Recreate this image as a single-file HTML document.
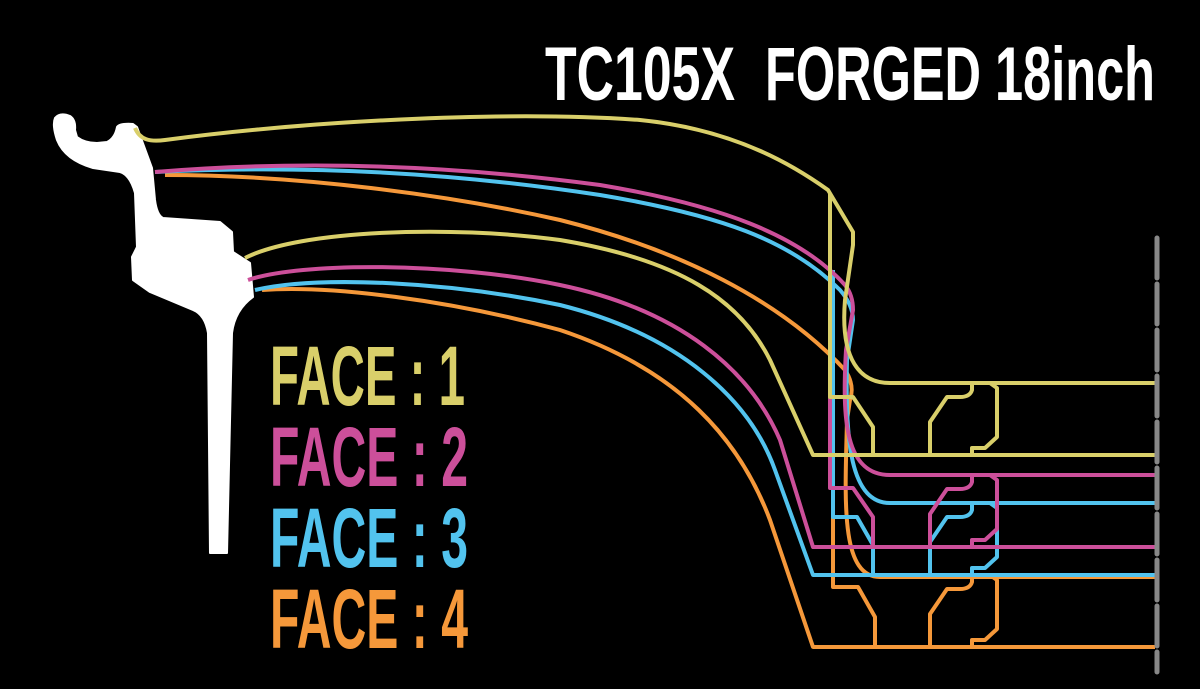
<!DOCTYPE html>
<html><head><meta charset="utf-8"><style>html,body{margin:0;padding:0;background:#000}svg{display:block}</style></head>
<body>
<svg width="1200" height="689" viewBox="0 0 1200 689" xmlns="http://www.w3.org/2000/svg">
<rect width="1200" height="689" fill="#000"/>
<g font-family="Liberation Sans, sans-serif" font-weight="bold" font-size="76" fill="#fff">
<text x="545" y="100" textLength="190" lengthAdjust="spacingAndGlyphs">TC105X</text>
<text x="765" y="100" textLength="390" lengthAdjust="spacingAndGlyphs">FORGED 18inch</text>
</g>
<g font-family="Liberation Sans, sans-serif" font-weight="bold" font-size="84">
<text x="270" y="405" fill="#d9cf6a" textLength="195" lengthAdjust="spacingAndGlyphs">FACE : 1</text>
<text x="270" y="486" fill="#cc4f9a" textLength="198" lengthAdjust="spacingAndGlyphs">FACE : 2</text>
<text x="270" y="567" fill="#52c3ee" textLength="198" lengthAdjust="spacingAndGlyphs">FACE : 3</text>
<text x="270" y="648" fill="#f5983a" textLength="198" lengthAdjust="spacingAndGlyphs">FACE : 4</text>
</g>
<path fill="#fff" stroke="#fff" stroke-width="2" stroke-linejoin="round" d="M55,118 Q60,112 70,116 Q76,120 75,130 L77,137 Q85,143 97,143 L107,142 Q115,138 117,127 Q120,123 133,124 L137,127 L152,168 L155,200 Q157,215 163,218 L220,222 L232,232 L233,252 L250,263 L253,297 Q235,310 232,333 L227,553 L210,553 L208,333 Q205,315 193,310 L150,292 L133,280 L132,257 L137,247 L135,193 Q130,175 120,172 L93,168 Q65,160 57,140 Q52,125 55,118 Z"/>
<g fill="none" stroke-width="4" stroke-linejoin="round">
<g stroke="#f5983a">
<path d="M165,175 C300,175 450,195 560,220 C680,250 780,300 845,370 Q855,385 850,400 L847,420 C845,500 840,577 880,577 L1155,577"/>
<path d="M833,513 L833,587 L858,587 L875,617 L875,647"/>
<path d="M262,290 C330,285 450,300 560,330 C680,370 740,440 770,520 L813,647 L1155,647"/>
<g transform="translate(0,192)"><path d="M972,383 L972,390 Q970,397 960,397 L947,397 L930,422 L930,455"/><path d="M990,383 L997,388 L997,437 L985,448 L972,448 L972,455"/></g>
</g>
<g stroke="#52c3ee">
<path d="M155,172 C300,165 450,172 600,195 C720,215 790,240 840,290 Q853,305 853,320 L847,360 C845,440 850,503 890,503 L1155,503"/>
<path d="M833,270 L833,517 L857,517 L873,545 L873,575"/>
<path d="M255,290 C320,275 450,282 560,305 C680,335 750,400 775,470 L813,575 L1155,575"/>
<g transform="translate(0,120)"><path d="M972,383 L972,390 Q970,397 960,397 L947,397 L930,422 L930,455"/><path d="M990,383 L997,388 L997,437 L985,448 L972,448 L972,455"/></g>
</g>
<g stroke="#cc4f9a">
<path d="M155,172 C300,160 450,165 600,185 C720,205 800,235 845,285 Q853,295 853,310 L846,350 C842,420 845,475 890,475 L1155,475"/>
<path d="M830,253 L830,488 L853,488 L873,517 L873,547"/>
<path d="M248,280 C300,262 450,262 560,285 C680,310 750,370 780,440 L813,547 L1155,547"/>
<g transform="translate(0,92)"><path d="M972,383 L972,390 Q970,397 960,397 L947,397 L930,422 L930,455"/><path d="M990,383 L997,388 L997,437 L985,448 L972,448 L972,455"/></g>
</g>
<g stroke="#d9cf6a">
<path d="M135,128 C140,140 150,142 165,140 C300,122 500,110 640,120 C740,130 800,170 828,190 L853,232 L853,245 L845,300 C840,360 860,383 890,383 L1155,383"/>
<path d="M830,193 L830,397 L853,397 L873,427 L873,455"/>
<path d="M245,258 C300,230 450,225 560,240 C680,260 740,300 770,360 L813,455 L1155,455"/>
<path d="M972,383 L972,390 Q970,397 960,397 L947,397 L930,422 L930,455"/><path d="M990,383 L997,388 L997,437 L985,448 L972,448 L972,455"/>
</g>
</g>
<line x1="1157" y1="238" x2="1157" y2="672" stroke="#888" stroke-width="5" stroke-linecap="round" stroke-dasharray="40 6"/>
</svg>
</body></html>
